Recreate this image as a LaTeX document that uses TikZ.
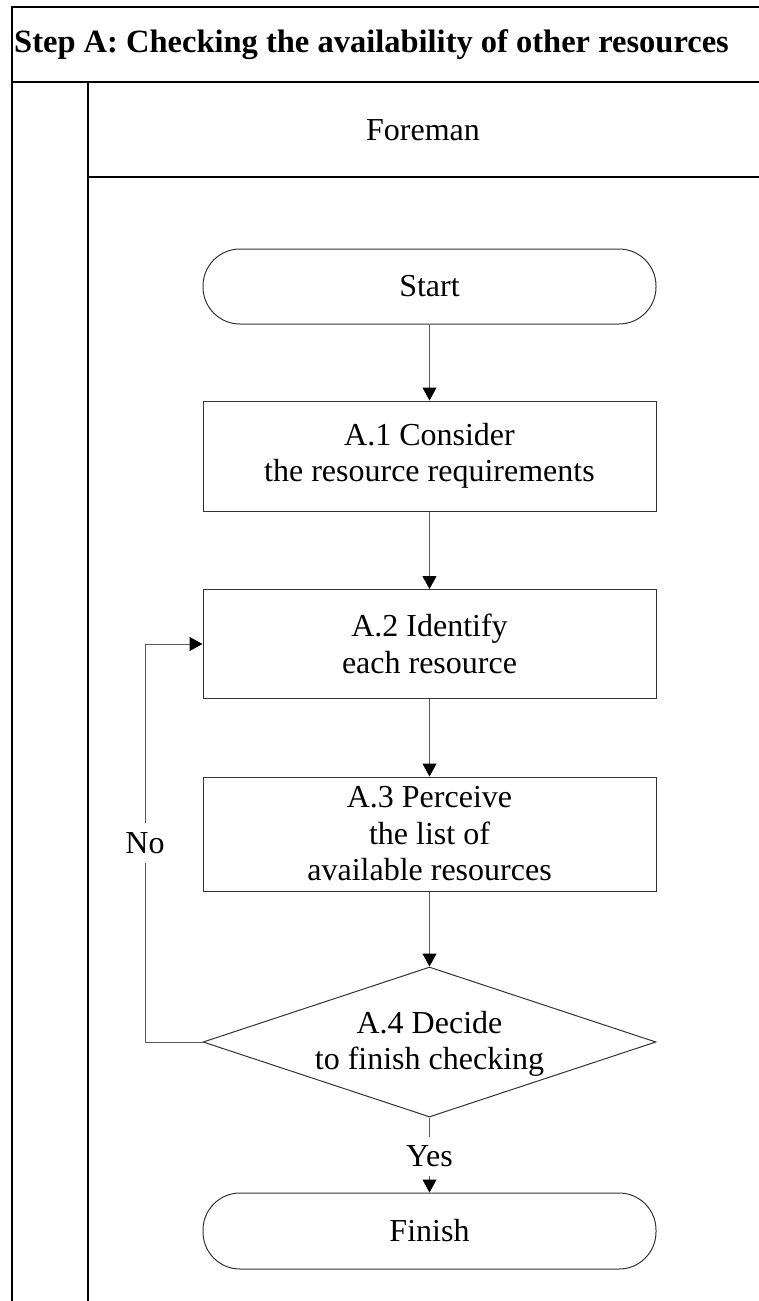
\documentclass[tikz,border=0pt]{standalone}
\usepackage{fontspec}
\setmainfont{Liberation Serif}
\usetikzlibrary{arrows.meta,shapes.geometric}

\begin{document}
\begin{tikzpicture}[x=1pt,y=-1pt,
  frame/.style={line width=1.6pt,black},
  box/.style={draw=black!80,line width=1pt,rectangle,minimum width=453pt,
    inner sep=0pt,align=center,font=\fontsize{32}{36.5}\selectfont},
  terminal/.style={box,rounded corners=37pt,minimum height=75pt},
  decision/.style={draw=black!80,line width=1pt,diamond,minimum width=453pt,
    minimum height=150pt,aspect=3.02,inner sep=0pt},
  txt/.style={inner sep=0pt,align=center,font=\fontsize{32}{36.5}\selectfont},
  flow/.style={draw=black!65,line width=1pt,
    -{Triangle[length=13pt,width=14pt,color=black,fill=black]}},
  lbl/.style={fill=white,inner xsep=2pt,inner ysep=9pt,font=\fontsize{32}{36.5}\selectfont}]

\useasboundingbox (0,0) rectangle (759,1301);

% swimlane frame
\draw[frame] (759,7) -- (12,7) -- (12,1301);
\draw[frame] (12,82) -- (759,82);
\draw[frame] (88,82) -- (88,1301);
\draw[frame] (88,177) -- (759,177);

\node[anchor=west,inner sep=0pt,font=\bfseries\fontsize{32.5}{36}\selectfont] (title) at (14,45)
  {Step A: Checking the availability of other resources};
\node[txt] (lane) at (423,130) {Foreman};

% flowchart
\node[terminal] (start) at (429.5,286.5) {Start};
\node[box,minimum height=110pt] (a1) at (429.5,456) {A.1 Consider\\the resource requirements};
\node[box,minimum height=109pt] (a2) at (429.5,644) {A.2 Identify\\each resource};
\node[box,minimum height=114pt] (a3) at (429.5,834) {A.3 Perceive\\the list of\\available resources};
\node[decision] (a4) at (429.5,1042) {};
\node[txt] (a4t) at (429.5,1044) {A.4 Decide\\to finish checking};
\node[terminal,minimum height=76pt] (finish) at (429.5,1231) {Finish};

\coordinate (loopB) at (145,1042);
\coordinate (loopT) at (145,644);

\draw[flow] (start) -- (a1);
\draw[flow] (a1) -- (a2);
\draw[flow] (a2) -- (a3);
\draw[flow] (a3) -- (a4.north);
\draw[flow] (a4.south) -- node[lbl,pos=0.52] {Yes} (finish);
\draw[flow] (a4.west) -- (loopB) -- node[lbl] {No} (loopT) -- (a2.west);

\end{tikzpicture}
\end{document}
